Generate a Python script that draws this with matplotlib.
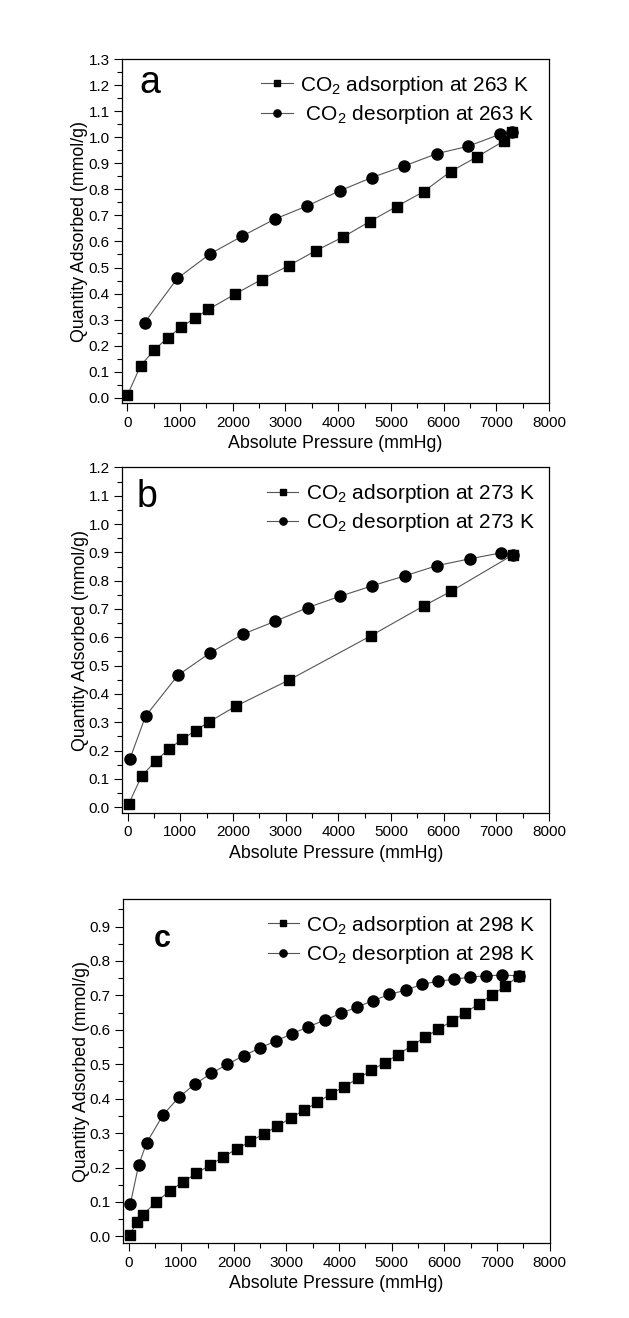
import matplotlib.pyplot as plt
from matplotlib.ticker import MultipleLocator

plt.rcParams["font.family"] = ["Liberation Sans", "DejaVu Sans"]
plt.rcParams["mathtext.default"] = "regular"

# panel a, 263 K
ads_263_p = [0, 253, 512, 765, 1024, 1276, 1536, 2041, 2547, 3058, 3570, 4082,
             4594, 5106, 5618, 6130, 6635, 7147, 7298]
ads_263_q = [0.009, 0.124, 0.183, 0.231, 0.271, 0.306, 0.339, 0.398, 0.454, 0.507,
             0.564, 0.616, 0.676, 0.734, 0.791, 0.868, 0.925, 0.986, 1.019]
des_263_p = [7298, 7077, 6458, 5870, 5257, 4632, 4025, 3406, 2799, 2174, 1567, 948, 329]
des_263_q = [1.019, 1.012, 0.965, 0.937, 0.890, 0.845, 0.794, 0.736, 0.686, 0.620,
             0.552, 0.458, 0.289]

# panel b, 273 K
ads_273_p = [19, 265, 531, 784, 1036, 1289, 1542, 2054, 3071, 4613, 5630, 6136, 7311]
ads_273_q = [0.011, 0.110, 0.163, 0.206, 0.240, 0.271, 0.301, 0.357, 0.450, 0.605,
             0.712, 0.762, 0.891]
des_273_p = [7311, 7084, 6490, 5870, 5264, 4645, 4032, 3419, 2806, 2186, 1573, 954, 341, 44]
des_273_q = [0.891, 0.898, 0.877, 0.853, 0.817, 0.782, 0.745, 0.705, 0.657, 0.611,
             0.546, 0.466, 0.322, 0.171]

# panel c, 298 K
ads_298_p = [19, 152, 272, 525, 784, 1031, 1290, 1543, 1802, 2055, 2315, 2568, 2827,
             3080, 3333, 3586, 3845, 4098, 4357, 4610, 4869, 5122, 5375, 5629, 5881,
             6141, 6393, 6653, 6906, 7159, 7412]
ads_298_q = [0.003, 0.041, 0.063, 0.100, 0.132, 0.158, 0.183, 0.207, 0.231, 0.254,
             0.276, 0.298, 0.320, 0.344, 0.367, 0.389, 0.414, 0.435, 0.459, 0.482,
             0.505, 0.528, 0.554, 0.578, 0.602, 0.625, 0.650, 0.675, 0.702, 0.727, 0.757]
des_298_p = [7412, 7096, 6786, 6482, 6185, 5869, 5571, 5262, 4952, 4648, 4338, 4035,
             3725, 3415, 3111, 2802, 2492, 2188, 1878, 1575, 1265, 955, 651, 341, 190, 32]
des_298_q = [0.757, 0.759, 0.757, 0.753, 0.747, 0.741, 0.732, 0.715, 0.703, 0.685,
             0.666, 0.648, 0.628, 0.609, 0.589, 0.568, 0.547, 0.525, 0.500, 0.474,
             0.443, 0.404, 0.352, 0.271, 0.206, 0.093]

panels = [
    dict(ads=(ads_263_p, ads_263_q), des=(des_263_p, des_263_q), temp="263",
         letter="a", ymax=1.3, pos=[0.194, 0.6942, 0.679, 0.261],
         letter_xy=(0.066, 0.93), letter_size=27, letter_weight="normal",
         des_label=" CO$_2$ desorption at 263 K"),
    dict(ads=(ads_273_p, ads_273_q), des=(des_273_p, des_273_q), temp="273",
         letter="b", ymax=1.2, pos=[0.1945, 0.3832, 0.6785, 0.2622],
         letter_xy=(0.058, 0.914), letter_size=27, letter_weight="normal",
         des_label="CO$_2$ desorption at 273 K"),
    dict(ads=(ads_298_p, ads_298_q), des=(des_298_p, des_298_q), temp="298",
         letter="c", ymax=0.98, pos=[0.196, 0.0567, 0.678, 0.2612],
         letter_xy=(0.092, 0.884), letter_size=22, letter_weight="bold",
         des_label="CO$_2$ desorption at 298 K"),
]


def main():
    fig = plt.figure(figsize=(6.29, 13.18), dpi=100)
    line_kw = dict(color="#555555", lw=0.8, mfc="black", mec="black")

    for p in panels:
        ax = fig.add_axes(p["pos"])
        ax.plot(*p["ads"], marker="s", ms=6.5, label=f"CO$_2$ adsorption at {p['temp']} K",
                **line_kw)
        ax.plot(*p["des"], marker="o", ms=8, label=p["des_label"], **line_kw)

        ax.set_xlim(-100, 8000)
        ax.set_ylim(-0.02, p["ymax"])
        ax.xaxis.set_major_locator(MultipleLocator(1000))
        ax.xaxis.set_minor_locator(MultipleLocator(500))
        ax.yaxis.set_major_locator(MultipleLocator(0.1))
        ax.yaxis.set_minor_locator(MultipleLocator(0.05))
        ax.tick_params(which="both", direction="out", top=False, right=False,
                       labelsize=11, width=0.8, pad=3)
        ax.tick_params(which="major", length=6)
        ax.tick_params(which="minor", length=3.5)
        ax.yaxis.set_major_formatter(plt.FormatStrFormatter("%.1f"))
        for s in ax.spines.values():
            s.set_linewidth(0.9)

        ax.set_xlabel("Absolute Pressure (mmHg)", fontsize=12.8, labelpad=4)
        ax.set_ylabel("Quantity Adsorbed (mmol/g)", fontsize=12.8, labelpad=0)

        ax.text(*p["letter_xy"], p["letter"], transform=ax.transAxes,
                fontsize=p["letter_size"], fontweight=p["letter_weight"],
                ha="center", va="center")

        ax.legend(loc="upper right", frameon=False, fontsize=15, markerscale=0.65,
                  handlelength=1.5, handletextpad=0.35, labelspacing=0.3,
                  borderaxespad=0.3)

    fig.savefig("out.png", dpi=100)


if __name__ == "__main__":
    main()
